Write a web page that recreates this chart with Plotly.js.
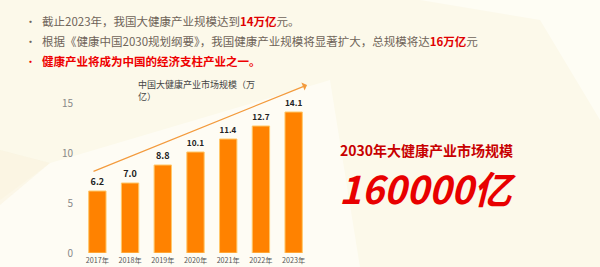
<!DOCTYPE html>
<html>
<head>
<meta charset="utf-8">
<script src="https://cdn.plot.ly/plotly-3.0.1.min.js"></script>
<style>
  html, body { margin: 0; padding: 0; background: #fcf9ea; }
  #chart { width: 600px; height: 267px; }
</style>
</head>
<body>
<div id="chart"></div>
<script>
// Market size of China's health industry (trillion yuan), 2017-2023
const years = ['2017年', '2018年', '2019年', '2020年', '2021年', '2022年', '2023年'];
const marketSize = [6.2, 7.0, 8.8, 10.1, 11.4, 12.7, 14.1];
const yTicks = [0, 5, 10, 15];

const FONT = '"Noto Sans CJK SC", "Noto Sans", sans-serif';
const GRAY = '#6f6459';
const RED = '#e00000';

// plot area in page pixels
const M = { l: 81, r: 290, t: 93, b: 14 };
const PW = 600 - M.l - M.r;
const PH = 267 - M.t - M.b;
// page pixel -> paper fraction
const fx = x => (x - M.l) / PW;
const fy = y => (267 - M.b - y) / PH;

const bars = {
  type: 'bar',
  x: years,
  y: marketSize,
  text: marketSize.map(v => '<b>' + v.toFixed(1) + '</b>'),
  textposition: 'outside',
  cliponaxis: false,
  textfont: { family: FONT, size: 9, color: '#222' },
  marker: { color: '#ff8200', line: { color: '#ffc86a', width: 1 } },
  hoverinfo: 'skip'
};

const bullet = (y, color) => ({
  xref: 'paper', yref: 'paper', x: fx(30), y: fy(y),
  xanchor: 'center', yanchor: 'middle', showarrow: false,
  text: '•', font: { family: FONT, size: 11, color: color }
});

const line = (y, text, color) => ({
  xref: 'paper', yref: 'paper', x: fx(40), y: fy(y),
  xanchor: 'left', yanchor: 'middle', showarrow: false,
  text: text, font: { family: FONT, size: 11.5, color: color }
});

const poly = (pts, fill) => ({
  type: 'path', xref: 'paper', yref: 'paper', layer: 'below',
  path: pts.map((p, i) => (i ? 'L ' : 'M ') + fx(p[0]) + ' ' + fy(p[1])).join(' ') + ' Z',
  fillcolor: fill, line: { width: 0 }
});

const layout = {
  width: 600,
  height: 267,
  margin: M,
  paper_bgcolor: 'rgba(0,0,0,0)',
  plot_bgcolor: 'rgba(0,0,0,0)',
  showlegend: false,
  bargap: 0.47,
  xaxis: {
    type: 'category',
    showgrid: false, zeroline: false, showline: false,
    ticks: '', ticklabelstandoff: 2,
    tickfont: { family: FONT, size: 7.2, color: '#555' }
  },
  yaxis: {
    range: [0, 16],
    tickvals: yTicks,
    showgrid: false, zeroline: false, showline: false,
    ticks: '', ticklabelstandoff: 7,
    tickfont: { family: FONT, size: 10, color: '#888' }
  },
  shapes: [
    // soft light facets in the background
    poly([[0, 200], [50, 163], [330, 80], [360, 267], [0, 267]], 'rgba(255,255,252,0.55)'),
    poly([[420, 0], [600, 0], [600, 120], [540, 20]], 'rgba(255,255,250,0.6)'),
    poly([[0, 205], [50, 163], [0, 150]], 'rgba(250,242,220,0.5)')
  ],
  annotations: [
    bullet(21, GRAY),
    line(21, '截止2023年，我国大健康产业规模达到<b><span style="color:' + RED + '">14万亿</span></b>元。', GRAY),
    bullet(41, GRAY),
    line(41, '根据《健康中国2030规划纲要》，我国健康产业规模将显著扩大，总规模将达<b><span style="color:' + RED + '">16万亿</span></b>元', GRAY),
    bullet(61, '#ee0000'),
    line(61, '<b>健康产业将成为中国的经济支柱产业之一。</b>', '#ee0000'),
    // chart title
    {
      xref: 'paper', yref: 'paper', x: fx(136), y: fy(76),
      xanchor: 'left', yanchor: 'top', align: 'left', showarrow: false,
      text: '中国大健康产业市场规模（万<br>亿）',
      font: { family: FONT, size: 9, color: '#444' }
    },
    // growth arrow
    {
      xref: 'paper', yref: 'paper',
      x: fx(307), y: fy(85),
      ax: fx(92), ay: fy(172), axref: 'paper', ayref: 'paper',
      showarrow: true, arrowhead: 1, arrowsize: 1.2, arrowwidth: 1.2,
      arrowcolor: '#f39a3c', text: ''
    },
    // 2030 target
    {
      xref: 'paper', yref: 'paper', x: fx(339), y: fy(150),
      xanchor: 'left', yanchor: 'middle', showarrow: false, borderpad: 0,
      text: '<b>2030年大健康产业市场规模</b>',
      font: { family: FONT, size: 14, color: '#c80000' }
    },
    {
      xref: 'paper', yref: 'paper', x: fx(338), y: fy(187),
      xanchor: 'left', yanchor: 'middle', showarrow: false, borderpad: 0,
      text: '<b><i>160000亿</i></b>',
      font: { family: FONT, size: 38, color: '#e80000' }
    }
  ]
};

Plotly.newPlot('chart', [bars], layout, { displayModeBar: false, staticPlot: true });
</script>
</body>
</html>
